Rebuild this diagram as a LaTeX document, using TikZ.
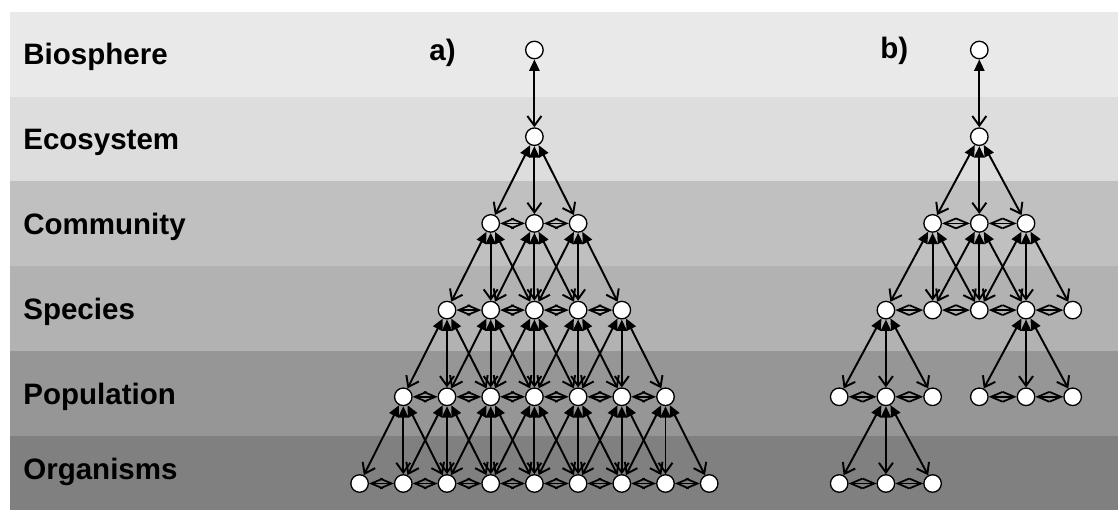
\documentclass[tikz,border=0pt]{standalone}
\usepackage{fontspec}
\setmainfont{Liberation Sans}
\usetikzlibrary{arrows.meta}
\definecolor{bandA}{gray}{0.914}
\definecolor{bandB}{gray}{0.867}
\definecolor{bandC}{gray}{0.753}
\definecolor{bandD}{gray}{0.698}
\definecolor{bandE}{gray}{0.588}
\definecolor{bandF}{gray}{0.502}
\begin{document}
\begin{tikzpicture}[x=0.02cm, y=-0.02cm]
\tikzstyle{unit}  = [circle, draw=black, fill=white, line width=0.75pt, minimum size=0.35cm, inner sep=0pt]
\tikzstyle{level} = [anchor=base west, inner sep=0pt, font=\fontsize{16.8}{20}\selectfont\bfseries]
\tikzstyle{arrow} = [line width=1.1pt, {Triangle[length=6.5pt,width=5.8pt]}-{Straight Barb[length=5.5pt,width=8pt]}]
\tikzstyle{link}  = [line width=1pt, {Straight Barb[length=6.6pt,width=5.6pt]}-{Straight Barb[length=6.6pt,width=5.6pt]}]
\useasboundingbox (0,0) rectangle (1118,513);
%
\fill[bandA] (10,12)  rectangle (1118,97);
\fill[bandB] (10,97)  rectangle (1118,181);
\fill[bandC] (10,181) rectangle (1118,266);
\fill[bandD] (10,266) rectangle (1118,351);
\fill[bandE] (10,351) rectangle (1118,436);
\fill[bandF] (10,436) rectangle (1118,510);
%
\node (biosphere)  [level] at (23,64.5)  {Biosphere};
\node (ecosystem)  [level] at (23,150)   {Ecosystem};
\node (community)  [level] at (23,235)   {Community};
\node (species)    [level] at (23,319.5) {Species};
\node (population) [level] at (23,404.5) {Population};
\node (organisms)  [level] at (23,479.5) {Organisms};
\node (taga) [level] at (429,61) {a)};
\node (tagb) [level] at (880,59) {b)};
%
% a) full hierarchy
\foreach \r/\first/\last in {0/4/4,1/4/4,2/3/5,3/2/6,4/1/7,5/0/8}
  \foreach \c in {\first,...,\last}
    \node (a\r-\c) [unit] at ({359.6+43.7*\c},{50+86.7*\r}) {};
%
\draw [arrow] (a0-4) -- (a1-4);
\foreach \r in {1,...,4} {
  \pgfmathtruncatemacro\nxt{\r+1}
  \pgfmathtruncatemacro\lo{5-\r}
  \pgfmathtruncatemacro\hi{3+\r}
  \foreach \c in {\lo,...,\hi} {
    \pgfmathtruncatemacro\cprev{\c-1}
    \pgfmathtruncatemacro\cnext{\c+1}
    \foreach \d in {\cprev,\c,\cnext}
      \draw [arrow] (a\r-\c) -- (a\nxt-\d);
  }
}
\foreach \r in {2,...,5} {
  \pgfmathtruncatemacro\lo{5-\r}
  \pgfmathtruncatemacro\hi{2+\r}
  \foreach \c in {\lo,...,\hi} {
    \pgfmathtruncatemacro\cnext{\c+1}
    \draw [link] (a\r-\c) -- (a\r-\cnext);
  }
}
%
% b) pruned hierarchy
\foreach \r/\c in {0/3,1/3,2/2,2/3,2/4,3/1,3/2,3/3,3/4,3/5,4/0,4/1,4/2,4/3,4/4,4/5,5/0,5/1,5/2}
  \node (b\r-\c) [unit] at ({839.2+46.7*\c},{50+86.7*\r}) {};
%
\foreach \p/\q in {0-3/1-3, 1-3/2-2, 1-3/2-3, 1-3/2-4,
                   2-2/3-1, 2-2/3-2, 2-2/3-3, 2-3/3-2, 2-3/3-3, 2-3/3-4,
                   2-4/3-3, 2-4/3-4, 2-4/3-5,
                   3-1/4-0, 3-1/4-1, 3-1/4-2, 3-4/4-3, 3-4/4-4, 3-4/4-5,
                   4-1/5-0, 4-1/5-1, 4-1/5-2}
  \draw [arrow] (b\p) -- (b\q);
\foreach \p/\q in {2-2/2-3, 2-3/2-4, 3-1/3-2, 3-2/3-3, 3-3/3-4, 3-4/3-5,
                   4-0/4-1, 4-1/4-2, 4-3/4-4, 4-4/4-5, 5-0/5-1, 5-1/5-2}
  \draw [link] (b\p) -- (b\q);
\end{tikzpicture}
\end{document}
